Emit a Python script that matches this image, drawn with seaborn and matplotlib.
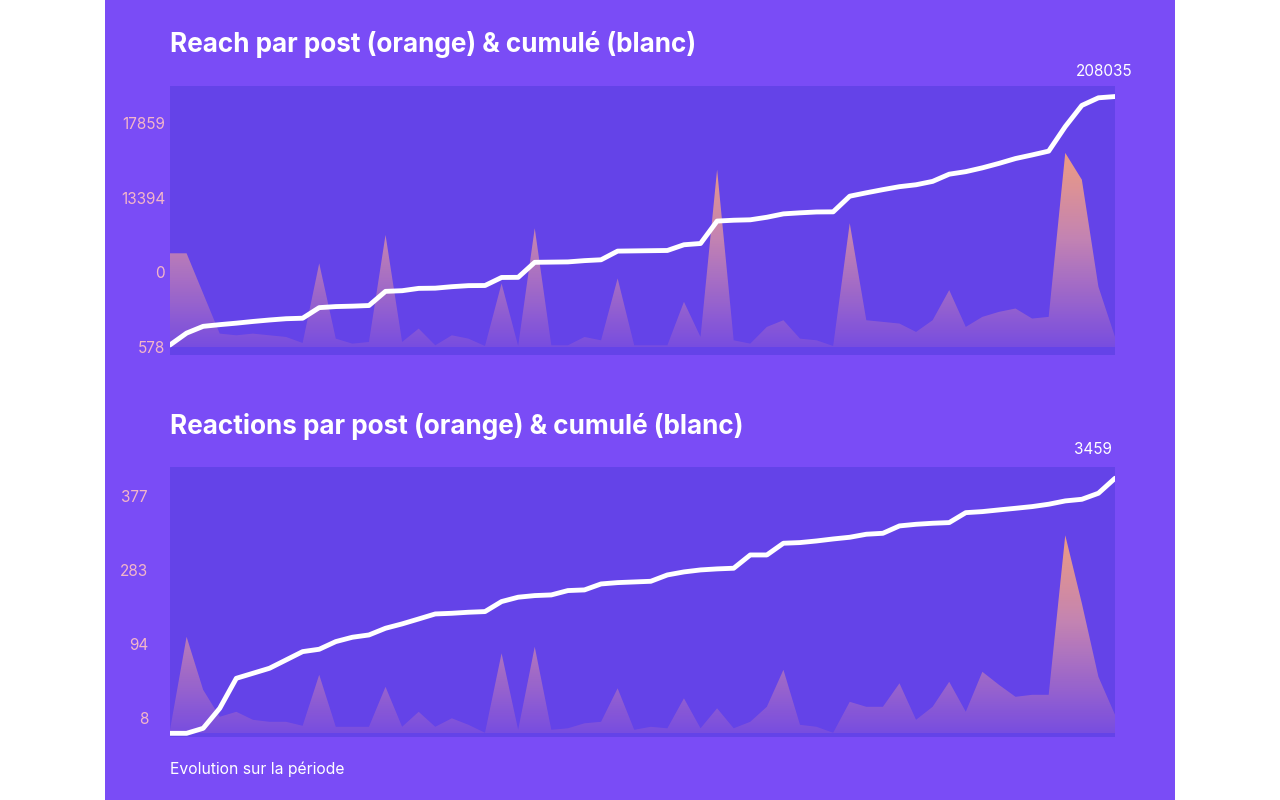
import numpy as np
import pandas as pd
import matplotlib
matplotlib.use("Agg")
import matplotlib.pyplot as plt
import seaborn as sns
from matplotlib.colors import LinearSegmentedColormap
from matplotlib.patches import Rectangle

sns.set_theme(style="white")
plt.rcParams['font.family'] = ['Inter', 'DejaVu Sans']

# === Data ===
reach_per_post = [9520, 9520, 5440, 1360, 1190, 1360, 1190, 1020, 408, 8500,
                  850, 340, 510, 11390, 510, 1870, 170, 1190, 850, 100,
                  6460, 100, 12070, 170, 170, 1020, 680, 6970, 170, 170,
                  170, 4590, 1020, 18020, 680, 340, 2040, 2720, 850, 680,
                  100, 12580, 2720, 2550, 2380, 1530, 2720, 5780, 2040, 3060,
                  3570, 3910, 2890, 3060, 19720, 17000, 6120, 1020]
reach_total = 208035
reach_tick_labels = ["578", "0", "13394", "17859"]

reactions_per_post = [7, 193, 87, 33, 43, 27, 23, 23, 15, 117,
                      13, 13, 13, 93, 13, 43, 13, 30, 17, 1,
                      160, 7, 173, 7, 10, 20, 23, 90, 7, 13,
                      10, 70, 10, 50, 10, 23, 53, 127, 17, 13,
                      1, 63, 53, 53, 100, 27, 53, 103, 43, 123,
                      97, 73, 77, 77, 396, 260, 113, 37]
reactions_cumul = [0, 0, 68, 339, 746, 814, 882, 995, 1108, 1140,
                   1244, 1303, 1334, 1425, 1484, 1551, 1619, 1628, 1642, 1651,
                   1787, 1846, 1868, 1877, 1936, 1945, 2026, 2044, 2053, 2062,
                   2148, 2189, 2216, 2230, 2239, 2419, 2419, 2578, 2587, 2609,
                   2636, 2659, 2700, 2713, 2813, 2835, 2849, 2858, 2993, 3007,
                   3030, 3052, 3075, 3107, 3152, 3174, 3256, 3459]
reactions_total = 3459
reactions_tick_labels = ["8", "94", "283", "377"]

reach_df = pd.DataFrame({"post": range(len(reach_per_post)), "value": reach_per_post})
reach_df["cumul"] = reach_df["value"].cumsum()
react_df = pd.DataFrame({"post": range(len(reactions_per_post)), "value": reactions_per_post,
                         "cumul": reactions_cumul})

# === Style ===
BG = "#7a4cf6"
PANEL = "#6443e8"
TICK_COL = "#f3b6c9"
grad = LinearSegmentedColormap.from_list("g", [(0, "#7a4ee0"), (0.55, "#c987b0"), (1, "#f7a27c")])

fig = plt.figure(figsize=(12.8, 8), dpi=100, facecolor="white")
fig.patches.append(Rectangle((105 / 1280, 0), 1070 / 1280, 1, transform=fig.transFigure,
                             facecolor=BG, edgecolor="none", zorder=-10))


def draw_panel(rect, df, ylim_bar, ylim_line, gtop):
    ax = fig.add_axes(rect)
    ax.set_facecolor(PANEL)
    for s in ax.spines.values():
        s.set_visible(False)
    poly = ax.fill_between(df["post"], 0, df["value"], color="none")
    img = ax.imshow(np.linspace(0, 1, 256).reshape(-1, 1), cmap=grad, origin="lower", aspect="auto",
                    extent=[0, len(df) - 1, 0, gtop], alpha=0.95, zorder=1)
    img.set_clip_path(poly.get_paths()[0], transform=ax.transData)
    ax.set_xlim(0, len(df) - 1)
    ax.set_ylim(*ylim_bar)
    ax.set_xticks([])
    ax.set_yticks([])
    ax2 = ax.twinx()
    sns.lineplot(data=df, x="post", y="cumul", ax=ax2, color="white", linewidth=3.5, zorder=3)
    ax2.set_ylim(*ylim_line)
    ax2.set_xlim(0, len(df) - 1)
    ax2.set_xticks([])
    ax2.set_yticks([])
    ax2.set_xlabel("")
    ax2.set_ylabel("")
    for s in ax2.spines.values():
        s.set_visible(False)
    return ax


draw_panel([170 / 1280, 1 - 355 / 800, 945 / 1280, 269 / 800], reach_df,
           (-813, 26520), (1450, 217600), 20000)
draw_panel([170 / 1280, 1 - 737 / 800, 945 / 1280, 270 / 800], react_df,
           (-7.4, 532.6), (-50, 3612), 400)

# === Texts ===
fig.text(170 / 1280, 1 - 45 / 800, "Reach par post (orange) & cumulé (blanc)", color="white",
         fontsize=18.8, fontweight="bold", va="center")
fig.text(170 / 1280, 1 - 426 / 800, "Reactions par post (orange) & cumulé (blanc)", color="white",
         fontsize=18.8, fontweight="bold", va="center")
fig.text(1104 / 1280, 1 - 71 / 800, f"{reach_total}", color="white", fontsize=11, ha="center", va="center")
fig.text(1093 / 1280, 1 - 450 / 800, f"{reactions_total}", color="white", fontsize=11, ha="center", va="center")
fig.text(170 / 1280, 1 - 769 / 800, "Evolution sur la période", color="white", fontsize=11.3, va="center")

for i, lab in enumerate(reach_tick_labels):
    fig.text(165 / 1280, 1 - (348 - 74.5 * i) / 800, lab, color=TICK_COL, fontsize=11, ha="right", va="center")
for i, lab in enumerate(reactions_tick_labels):
    fig.text(148 / 1280, 1 - (719 - 74 * i) / 800, lab, color=TICK_COL, fontsize=11, ha="right", va="center")

fig.savefig("out.png", dpi=100, facecolor="white")
